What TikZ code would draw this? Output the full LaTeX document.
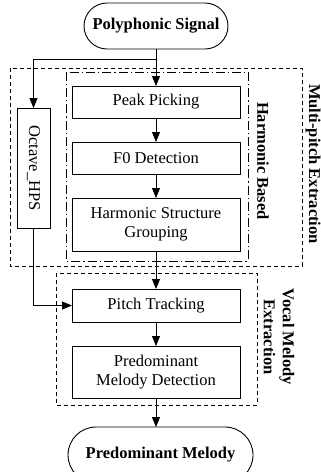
\documentclass[tikz,border=0pt]{standalone}
\usepackage{fontspec}
\setmainfont{Liberation Serif}
\usetikzlibrary{arrows.meta,calc}
\begin{document}
\begin{tikzpicture}[x=1pt,y=-1pt,
  font=\fontsize{16.5}{19.5}\selectfont,
  every node/.style={inner sep=0pt, outer sep=0pt},
  proc/.style={draw, line width=0.9pt, minimum width=168pt, align=center},
  term/.style={draw, line width=0.9pt, rounded corners=23pt, font=\fontsize{16.5}{19.5}\selectfont\bfseries},
  flow/.style={line width=0.8pt, -{Triangle[length=10pt,width=8pt]}},
  grpdash/.style={line width=0.8pt, dash pattern=on 4pt off 3pt},
  grpdashdot/.style={line width=0.8pt, dash pattern=on 9pt off 3pt on 1.2pt off 3pt},
  grplabel/.style={rotate=-90, align=center, font=\fontsize{16.5}{19}\selectfont\bfseries}]
\useasboundingbox (0,0) rectangle (321,472);

% group frames
\draw[grpdash] (10,68) rectangle (302,266);
\draw[grpdashdot] (66,72) rectangle (248,261);
\draw[grpdash] (56,273) rectangle (257,405);

% terminals
\node[term, minimum width=144pt, minimum height=46pt] (sig) at (156,26) {Polyphonic Signal};
\node[term, minimum width=185pt, minimum height=56pt, rounded corners=28pt] (mel) at (160.5,455) {Predominant Melody};

% processing blocks
\node[proc, minimum height=32pt] (peak) at (156,102) {Peak Picking};
\node[proc, minimum height=32pt] (fzero) at (156,158) {F0 Detection};
\node[proc, minimum height=53pt] (hsg) at (156,224.5) {Harmonic Structure\\Grouping};
\node[proc, minimum height=33pt] (pitch) at (156,305.5) {Pitch Tracking};
\node[proc, minimum height=52pt] (pmd) at (156,372) {Predominant\\Melody Detection};
\node[draw, line width=0.9pt, minimum width=33pt, minimum height=120pt] (oct) at (33.5,168) {\rotatebox{-90}{Octave\_HPS}};

% group labels
\node[grplabel] (lblharm) at (263,161) {Harmonic Based};
\node[grplabel] (lblmulti) at (313,164) {Multi-pitch Extraction};
\node[grplabel] (lblvocal) at (279,337) {Vocal Melody\\Extraction};

% connectors
\coordinate (split) at ($(sig.south)+(0,10)$);
\draw[flow] (sig.south) -- (peak.north);
\draw[flow] (split) -| (oct.north);
\draw[flow] (peak) -- (fzero);
\draw[flow] (fzero) -- (hsg);
\draw[flow] (hsg) -- (pitch);
\draw[flow] (pitch) -- (pmd);
\draw[flow] (pmd.south) -- (pmd.south |- mel.north);
\draw[flow] (oct.south) |- (pitch.west);
\end{tikzpicture}
\end{document}
